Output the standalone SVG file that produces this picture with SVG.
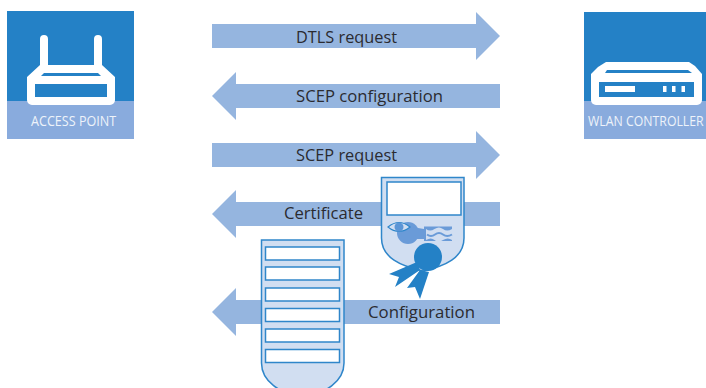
<svg xmlns="http://www.w3.org/2000/svg" width="706" height="388" viewBox="0 0 706 388">
<style>
.arrow{fill:#95b5df}
.lbl{font-family:"Open Sans","Noto Sans",sans-serif;font-size:16.500px;fill:#2b2b30}
.cap{font-family:"Open Sans","Noto Sans",sans-serif;font-size:15px;fill:#eef3fa}
.top{fill:#2481c6}.bot{fill:#89abdd}
.w{fill:#fff}.pale{fill:#d1def1;stroke:#2f86ca;stroke-width:1.500}
.slot{fill:#fff;stroke:#2f86ca;stroke-width:1.500}
.b{fill:#2481c6}
</style>
<g id="connectors">
<path class="arrow" d="M212 24H476V12L500 36L476 60V48H212Z"/>
<path class="arrow" d="M500 84H236V72L212 96L236 120V108H500Z"/>
<path class="arrow" d="M212 143H476V131L500 155L476 179V167H212Z"/>
<path class="arrow" d="M500 202H236V190L212 214L236 238V226H500Z"/>
<path class="arrow" d="M500 300H236V288L212 312L236 336V324H500Z"/>
<text class="lbl" x="296" y="42.500" textLength="101" lengthAdjust="spacingAndGlyphs">DTLS request</text>
<text class="lbl" x="296" y="101.500" textLength="147" lengthAdjust="spacingAndGlyphs">SCEP configuration</text>
<text class="lbl" x="296" y="161" textLength="101" lengthAdjust="spacingAndGlyphs">SCEP request</text>
<text class="lbl" x="284" y="219" textLength="79" lengthAdjust="spacingAndGlyphs">Certificate</text>
<text class="lbl" x="368" y="318" textLength="107" lengthAdjust="spacingAndGlyphs">Configuration</text>
</g>
<g id="access-point">
<rect class="top" x="7" y="11" width="127" height="90"/>
<rect class="bot" x="7" y="101" width="127" height="38"/>
<path class="w" d="M40 39a4 4 0 0 1 8 0V65H94V39a4 4 0 0 1 8 0V65L115 77V100a5 5 0 0 1-5 5H32a5 5 0 0 1-5-5V77L40 65Z"/>
<path class="top" d="M44 73H98L101 76H41Z"/>
<rect class="top" x="35" y="84" width="72" height="13"/>
<text class="cap" transform="translate(31 126) scale(.84 1)">ACCESS POINT</text>
</g>
<g id="wlan-controller">
<rect class="top" x="584" y="12" width="122" height="89"/>
<rect class="bot" x="584" y="101" width="122" height="38"/>
<path class="w" d="M606 62H689L695 66L702 74V100a5 5 0 0 1-5 5H596a5 5 0 0 1-5-5V74L598 67Z"/>
<path class="top" d="M607 70H688L692 73H605Z"/>
<rect class="top" x="599" y="82" width="95" height="15"/>
<rect class="w" x="605" y="86" width="30" height="6"/>
<rect class="w" x="663" y="86" width="3.500" height="6"/>
<rect class="w" x="672" y="86" width="3.500" height="6"/>
<rect class="w" x="681.500" y="86" width="3.500" height="6"/>
<text class="cap" transform="translate(588 125.500) scale(.82 1)">WLAN CONTROLLER</text>
</g>
<g id="certificate">
<path class="pale" d="M381.500 177.500H464V238C464 258 445 266 423 271C401 266 381.500 258 381.500 238Z"/>
<rect class="slot" x="387" y="182" width="74" height="33"/>
<circle cx="408" cy="233" r="11" fill="#6a9bd8"/>
<path fill="#6a9bd8" d="M412 227L424 229V239L412 239Z"/>
<path fill="#6a9bd8" d="M424 226.500H452V241H424Z"/>
<path fill="#d1def1" d="M426 229q4 3 8.500 0t8.500 0t9 0V240q-4-3-9 0t-8.500 0t-8.500 0Z"/>
<path fill="none" stroke="#6a9bd8" stroke-width="2" d="M427 234.500q4 3 8 0t8 0t9 0"/>
<path fill="#d1def1" d="M388 227q11-9 22 0q-11 9-22 0Z" stroke="#2f86ca" stroke-width="1.200"/>
<circle cx="399" cy="227" r="4.500" fill="#5b95d6"/>
<path class="b" d="M417 262L389 274L399 277L395 287L420 270Z"/>
<path class="b" d="M420 270L407 288L415 287L420 299L429 272Z"/>
<circle class="b" cx="428" cy="257" r="14"/>
</g>
<g id="configuration">
<path class="pale" d="M261.500 240H344V363A41.250 32 0 0 1 261.500 363Z"/>
<rect class="slot" x="265.500" y="247" width="74" height="13"/>
<rect class="slot" x="265.500" y="267" width="74" height="13"/>
<rect class="slot" x="265.500" y="288" width="74" height="13"/>
<rect class="slot" x="265.500" y="308.500" width="74" height="13"/>
<rect class="slot" x="265.500" y="329" width="74" height="13"/>
<rect class="slot" x="265.500" y="349.500" width="74" height="13"/>
</g>
</svg>
